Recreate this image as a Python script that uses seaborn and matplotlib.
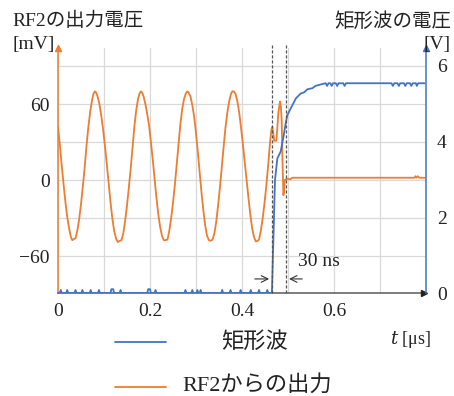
import matplotlib
matplotlib.use("Agg")
import matplotlib.pyplot as plt
import seaborn as sns
import pandas as pd
from matplotlib.lines import Line2D

# ---------------- data ----------------
rf2_t = [0.000, 0.004, 0.008, 0.012, 0.016, 0.020, 0.024, 0.028, 0.031, 0.035,
         0.038, 0.042, 0.046, 0.050, 0.054, 0.058, 0.062, 0.066, 0.070, 0.074,
         0.077, 0.080, 0.083, 0.086, 0.090, 0.094, 0.098, 0.102, 0.106, 0.110,
         0.114, 0.118, 0.122, 0.126, 0.130, 0.134, 0.138, 0.142, 0.146, 0.150,
         0.154, 0.158, 0.162, 0.166, 0.170, 0.174, 0.177, 0.180, 0.183, 0.186,
         0.190, 0.194, 0.198, 0.202, 0.206, 0.210, 0.214, 0.218, 0.222, 0.226,
         0.230, 0.234, 0.238, 0.242, 0.246, 0.250, 0.254, 0.258, 0.262, 0.266,
         0.270, 0.274, 0.278, 0.281, 0.284, 0.288, 0.292, 0.296, 0.300, 0.304,
         0.308, 0.312, 0.316, 0.320, 0.324, 0.328, 0.332, 0.336, 0.340, 0.344,
         0.348, 0.352, 0.356, 0.360, 0.364, 0.368, 0.372, 0.376, 0.379, 0.382,
         0.386, 0.390, 0.394, 0.398, 0.402, 0.406, 0.410, 0.414, 0.418, 0.422,
         0.426, 0.430, 0.434, 0.437, 0.441, 0.445, 0.449, 0.453, 0.457, 0.461,
         0.464, 0.466, 0.468, 0.470, 0.4746, 0.477, 0.479, 0.4826, 0.4845, 0.4863,
         0.488, 0.490, 0.491, 0.493, 0.4985, 0.505, 0.509,
         0.775, 0.777, 0.779, 0.782, 0.785, 0.797]
rf2_mv = [42, 28, 12, -3, -17, -29, -38, -45, -47.5, -46.5,
          -46, -40, -31, -19, -5, 10, 27, 42, 54, 63,
          68, 70, 69, 66, 60, 51, 40, 27, 13, -2,
          -17, -30, -40, -46, -49, -48, -47.5, -42, -32, -20,
          -6, 9, 26, 42, 55, 64, 68, 70, 69, 66,
          60, 52, 43, 30, 16, 1, -14, -27, -37, -44,
          -47.5, -47.5, -47, -40, -30, -18, -4, 12, 28, 44,
          56, 64, 68.5, 70, 69, 66, 59, 50, 37, 22,
          6, -10, -24, -36, -44, -47.5, -48, -47, -42, -33,
          -20, -6, 10, 26, 41, 53, 62, 68, 70, 70,
          68, 62, 53, 41, 28, 14, 0, -14, -27, -38,
          -45, -48.5, -48, -47, -40, -30, -18, -4, 12, 30,
          40, 42, 37, 31, 31, 42, 53, 62, 58, 47,
          15, -12, -10, 0, 1, 0.5, 1.8,
          1.8, 3, 1.8, 3, 1.8, 1.8]

sq_t = [0.000, 0.004, 0.006, 0.008, 0.018, 0.020, 0.022, 0.036, 0.038, 0.040,
        0.051, 0.053, 0.055, 0.069, 0.071, 0.073, 0.087, 0.089, 0.091,
        0.114, 0.116, 0.120, 0.122, 0.134, 0.136, 0.138,
        0.194, 0.196, 0.200, 0.202, 0.210, 0.212, 0.214,
        0.275, 0.277, 0.279, 0.290, 0.292, 0.294, 0.301, 0.303, 0.305,
        0.308, 0.310, 0.312, 0.355, 0.357, 0.359, 0.373, 0.375, 0.377,
        0.395, 0.397, 0.399, 0.417, 0.419, 0.421, 0.435, 0.437, 0.439,
        0.453, 0.455, 0.457, 0.465,
        0.4717, 0.4768, 0.484, 0.490, 0.495, 0.4985, 0.506, 0.512, 0.517, 0.5276,
        0.535, 0.542, 0.553, 0.560, 0.5746,
        0.582, 0.585, 0.588, 0.592, 0.595, 0.598, 0.604, 0.607, 0.610, 0.620, 0.623, 0.626,
        0.725, 0.728, 0.731, 0.738, 0.741, 0.744, 0.752, 0.755, 0.758,
        0.765, 0.768, 0.771, 0.778, 0.780, 0.783, 0.797]
sq_v = [0, 0, 0.08, 0, 0, 0.08, 0, 0, 0.08, 0,
        0, 0.08, 0, 0, 0.08, 0, 0, 0.08, 0,
        0, 0.1, 0.1, 0, 0, 0.08, 0,
        0, 0.1, 0.1, 0, 0, 0.08, 0,
        0, 0.08, 0, 0, 0.08, 0, 0, 0.08, 0,
        0, 0.08, 0, 0, 0.08, 0, 0, 0.08, 0,
        0, 0.08, 0, 0, 0.08, 0, 0, 0.08, 0,
        0, 0.08, 0, 0,
        2.97, 3.54, 3.72, 4.10, 4.47, 4.68, 4.86, 5.00, 5.12, 5.25,
        5.28, 5.36, 5.39, 5.45, 5.50,
        5.52, 5.45, 5.52, 5.52, 5.45, 5.52, 5.52, 5.45, 5.52, 5.52, 5.45, 5.52,
        5.52, 5.45, 5.52, 5.52, 5.45, 5.52, 5.52, 5.45, 5.52,
        5.52, 5.45, 5.52, 5.52, 5.45, 5.52, 5.52]

x_ticks = [0, 0.2, 0.4, 0.6]
x_minor = [0.1, 0.3, 0.5, 0.7]
left_ticks = [-60, 0, 60]
left_minor = [-30, 30, 90]
right_ticks = [0, 2, 4, 6]
marker_lines = [0.465, 0.4963]

left_title = "RF2の出力電圧"
left_unit = "[mV]"
right_title = "矩形波の電圧"
right_unit = "[V]"
legend_labels = ["矩形波", "RF2からの出力"]
gap_label = "30 ns"

ORANGE = "#ED7D31"
BLUE = "#4472C4"
DARK = "#595959"
TXT = "#222222"

# ---------------- style ----------------
sns.set_theme(style="white")
FONT = ["Liberation Serif", "Noto Sans CJK JP", "DejaVu Sans"]
plt.rcParams["font.family"] = FONT
plt.rcParams["axes.unicode_minus"] = True

fig = plt.figure(figsize=(4.54, 3.96), dpi=100)
W, H = 454, 396
ax = fig.add_axes([58 / W, (H - 293) / H, 368 / W, 245.1 / H])
ax2 = ax.twinx()

df1 = pd.DataFrame({"t": rf2_t, "v": rf2_mv})
df2 = pd.DataFrame({"t": sq_t, "v": sq_v})
sns.lineplot(data=df1, x="t", y="v", ax=ax, color=ORANGE, lw=1.3,
             estimator=None, sort=False)
sns.lineplot(data=df2, x="t", y="v", ax=ax2, color=BLUE, lw=1.3,
             estimator=None, sort=False)

ax.set_xlim(0, 0.8)
ax.set_ylim(-89.2, 104.3)
ax2.set_ylim(0, 6.45)

ax.set_xticks(x_ticks)
ax.set_xticks(x_minor, minor=True)
ax.set_xticklabels(["0", "0.2", "0.4", "0.6"])
ax.set_yticks(left_ticks)
ax.set_yticks(left_minor, minor=True)
ax.set_yticklabels(["\u221260", "0", "60"])
ax2.set_yticks(right_ticks)
ax2.set_yticklabels([str(v) for v in right_ticks])

ax.grid(True, which="both", color="#d9d9d9", lw=0.9)
ax.set_axisbelow(True)
ax2.grid(False)
ax.set_xlabel("")
ax.set_ylabel("")
ax2.set_ylabel("")

ax.tick_params(axis="x", which="both", length=0, pad=7, labelsize=14, labelcolor=TXT)
ax.tick_params(axis="y", which="both", length=0, pad=6, labelsize=14, labelcolor=TXT)
ax2.tick_params(axis="y", which="both", length=0, pad=8, labelsize=14, labelcolor=TXT)

for s in ["top", "right"]:
    ax.spines[s].set_visible(False)
for s in ["top", "left", "bottom"]:
    ax2.spines[s].set_visible(False)
ax.spines["left"].set_color(ORANGE)
ax.spines["left"].set_linewidth(1.1)
ax.spines["bottom"].set_color(DARK)
ax.spines["bottom"].set_linewidth(1.1)
ax2.spines["right"].set_color(BLUE)
ax2.spines["right"].set_linewidth(1.1)

# arrow heads on axes
ax.plot(0, 1, marker="^", color=ORANGE, ms=5, transform=ax.transAxes, clip_on=False)
ax2.plot(1, 1, marker="^", color=BLUE, ms=5, transform=ax2.transAxes, clip_on=False)
ax2.plot(0.995, 0, marker=">", color=TXT, ms=5, transform=ax2.transAxes, clip_on=False)

# dashed markers
for xv in marker_lines:
    ax2.axvline(xv, ymin=0, ymax=1.01, ls=(0, (2.5, 1.5)), color="#555555", lw=0.9, clip_on=False)

# 30 ns arrows
ax2.annotate("", xy=(marker_lines[0], 0.37), xytext=(0.4217, 0.37),
             arrowprops=dict(arrowstyle="->", color="#333333", lw=0.8))
ax2.annotate("", xy=(marker_lines[1], 0.37), xytext=(0.537, 0.37),
             arrowprops=dict(arrowstyle="->", color="#333333", lw=0.8))
ax2.text(0.567, 0.82, gap_label, ha="center", va="center", fontsize=14, color=TXT)

# titles
fig.text(12 / W, 1 - 21 / H, left_title, ha="left", va="center", fontsize=14, color=TXT)
fig.text(12 / W, 1 - 44 / H, left_unit, ha="left", va="center", fontsize=14, color=TXT)
fig.text(451 / W, 1 - 21 / H, right_title, ha="right", va="center", fontsize=14, color=TXT)
fig.text(451 / W, 1 - 44 / H, right_unit, ha="right", va="center", fontsize=14, color=TXT)

# x label
fig.text(431 / W, 1 - 340 / H, "$t$ [μs]", ha="right", va="center", fontsize=13, color=TXT,
         math_fontfamily="dejavuserif")

# legend
fig.add_artist(Line2D([115 / W, 166 / W], [1 - 342 / H, 1 - 342 / H], color=BLUE, lw=1.3))
fig.add_artist(Line2D([115 / W, 166 / W], [1 - 387 / H, 1 - 387 / H], color=ORANGE, lw=1.3))
fig.text(254 / W, 1 - 342 / H, legend_labels[0], ha="center", va="center", fontsize=16, color=TXT)
fig.text(257 / W, 1 - 385 / H, legend_labels[1], ha="center", va="center", fontsize=16, color=TXT)

fig.savefig("out.png", dpi=100)
